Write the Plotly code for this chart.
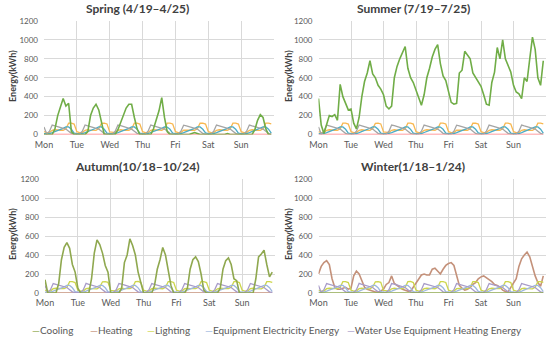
import plotly.graph_objects as go

days = ["Mon", "Tue", "Wed", "Thu", "Fri", "Sat", "Sun"]
day_ticks = [0, 24, 48, 72, 96, 120, 144]
hours = list(range(0, 168, 2))

cooling_spring = [0, 0, 0, 0, 60, 200, 290, 380, 300, 330, 30, 0,
                  0, 0, 0, 0, 30, 200, 280, 320, 260, 120, 0, 0,
                  0, 0, 0, 50, 130, 200, 280, 320, 320, 180, 60, 0,
                  0, 0, 0, 0, 60, 150, 250, 390, 180, 30, 0, 0,
                  0, 0, 0, 0, 0, 0, 10, 20, 10, 0, 0, 0,
                  0, 0, 0, 0, 0, 0, 0, 10, 0, 0, 0, 0,
                  0, 0, 0, 0, 0, 50, 150, 210, 180, 60, 0, 0]
cooling_summer = [380, 100, 10, 120, 200, 190, 210, 150, 530, 400, 330, 260,
                  270, 120, 60, 180, 400, 560, 650, 780, 640, 600, 520, 480,
                  420, 300, 270, 300, 600, 720, 800, 870, 930, 700, 600, 550,
                  470, 370, 310, 420, 600, 700, 820, 900, 950, 750, 620, 570,
                  450, 340, 320, 330, 650, 680, 880, 840, 800, 650, 600, 560,
                  510, 420, 320, 310, 550, 660, 920, 800, 1000, 800, 720, 660,
                  520, 450, 430, 380, 600, 560, 800, 1030, 900, 600, 520, 780]
cooling_autumn = [140, 0, 0, 0, 0, 100, 350, 480, 530, 470, 300, 220,
                  50, 0, 0, 0, 0, 150, 420, 560, 510, 420, 290, 220,
                  0, 0, 0, 0, 50, 320, 400, 570, 500, 400, 220, 110,
                  0, 0, 0, 0, 80, 250, 350, 480, 400, 250, 80, 0,
                  0, 0, 0, 0, 50, 250, 350, 380, 330, 200, 30, 0,
                  0, 0, 0, 0, 50, 250, 340, 370, 300, 150, 130, 0,
                  0, 0, 0, 0, 0, 150, 380, 410, 450, 300, 170, 220]
cooling_winter = [0, 0, 0, 0, 0, 0, 0, 0, 0, 0, 0, 0,
                  0, 0, 0, 0, 0, 0, 0, 0, 0, 0, 0, 0,
                  0, 0, 0, 0, 0, 0, 0, 0, 0, 0, 0, 0,
                  0, 0, 0, 0, 0, 0, 0, 0, 0, 0, 0, 0,
                  0, 0, 0, 0, 0, 0, 0, 0, 0, 0, 0, 0,
                  0, 0, 0, 0, 0, 0, 0, 0, 0, 0, 0, 0,
                  0, 0, 0, 0, 0, 0, 0, 0, 0, 0, 0, 0]
heating_warm = [0, 0, 0, 0, 0, 0, 0, 0, 0, 0, 0, 0,
                0, 0, 0, 0, 0, 0, 0, 0, 0, 0, 0, 0,
                0, 0, 0, 0, 0, 0, 0, 0, 0, 0, 0, 0,
                0, 0, 0, 0, 0, 0, 0, 0, 0, 0, 0, 0,
                0, 0, 0, 0, 0, 0, 0, 0, 0, 0, 0, 0,
                0, 0, 0, 0, 0, 0, 0, 0, 0, 0, 0, 0,
                0, 0, 0, 0, 0, 0, 0, 0, 0, 0, 0, 0]
heating_winter = [200, 280, 320, 340, 300, 150, 60, 40, 40, 50, 60, 40,
                  50, 180, 230, 200, 120, 60, 40, 30, 20, 10, 10, 20,
                  40, 90, 110, 180, 100, 80, 60, 40, 30, 20, 20, 60,
                  100, 140, 190, 200, 190, 190, 250, 260, 230, 200, 250, 290,
                  310, 320, 290, 180, 80, 50, 30, 40, 60, 90, 110, 150,
                  170, 180, 160, 140, 120, 90, 80, 60, 30, 15, 10, 60,
                  100, 150, 280, 360, 400, 430, 380, 270, 180, 110, 70, 180]
lighting = [30, 20, 20, 45, 50, 45, 45, 45, 60, 120, 120, 110,
            30, 20, 20, 45, 50, 46, 45, 44, 62, 118, 120, 112,
            28, 20, 20, 44, 50, 45, 45, 45, 60, 120, 121, 110,
            30, 20, 21, 45, 50, 45, 46, 45, 61, 120, 120, 111,
            30, 20, 20, 45, 49, 45, 45, 45, 60, 119, 120, 110,
            30, 20, 20, 44, 50, 45, 45, 45, 60, 120, 120, 110,
            30, 20, 20, 45, 50, 45, 45, 44, 60, 120, 120, 112]
equipment = [10, 10, 10, 20, 30, 40, 50, 65, 80, 80, 55, 15,
             10, 10, 10, 20, 30, 40, 52, 66, 80, 80, 55, 15,
             10, 10, 11, 20, 30, 40, 50, 65, 81, 80, 54, 15,
             10, 10, 10, 21, 30, 40, 50, 65, 80, 79, 55, 15,
             10, 10, 10, 20, 30, 41, 50, 64, 80, 80, 55, 16,
             10, 10, 10, 20, 30, 40, 50, 65, 80, 80, 55, 15,
             10, 10, 10, 20, 31, 40, 50, 65, 80, 80, 56, 15]
water = [80, 5, 35, 100, 92, 84, 76, 68, 58, 35, 12, 5,
         5, 5, 35, 101, 92, 85, 76, 67, 58, 35, 12, 5,
         5, 5, 34, 100, 93, 84, 76, 68, 57, 35, 12, 5,
         5, 5, 35, 100, 92, 84, 77, 68, 58, 36, 12, 5,
         5, 5, 35, 99, 92, 84, 76, 68, 58, 35, 11, 5,
         5, 5, 36, 100, 92, 85, 76, 68, 58, 35, 12, 5,
         5, 5, 35, 100, 91, 84, 76, 68, 58, 35, 12, 5]

series_names = ["Cooling", "Heating", "Lighting", "Equipment Electricity Energy",
                "Water Use Equipment Heating Energy"]
top_colors = ["#70AD47", "#FF7C80", "#F8B850", "#4BACC6", "#A5A5A5"]
bottom_colors = ["#8FA84F", "#C4917A", "#CDD64B", "#9EB8DE", "#A89CC8"]

panels = [
    ("Spring (4/19–4/25)", [cooling_spring, heating_warm, lighting, equipment, water], top_colors, "x", "y"),
    ("Summer (7/19–7/25)", [cooling_summer, heating_warm, lighting, equipment, water], top_colors, "x2", "y2"),
    ("Autumn(10/18–10/24)", [cooling_autumn, heating_warm, lighting, equipment, water], bottom_colors, "x3", "y3"),
    ("Winter(1/18–1/24)", [cooling_winter, heating_winter, lighting, equipment, water], bottom_colors, "x4", "y4"),
]

W, H = 550, 339
def px(v):
    return v / W
def py(v):
    return 1 - v / H

fig = go.Figure()
for title, data, colors, xa, ya in panels:
    order = [1, 2, 3, 4, 0]
    for i in order:
        fig.add_trace(go.Scatter(
            x=hours, y=data[i], mode="lines", name=series_names[i],
            line=dict(color=colors[i], width=1.6 if i in (0, 1) else 1.3),
            xaxis=xa, yaxis=ya, showlegend=False, hoverinfo="skip"))

font = "Lato, 'Open Sans', sans-serif"
xdoms = [[px(44), px(274)], [px(318.5), px(546)], [px(45), px(275)], [px(318.5), px(546)]]
ydoms = [[py(134.5), py(21)], [py(134.5), py(21)], [py(293), py(179)], [py(293), py(179)]]

layout = dict(width=W, height=H, margin=dict(l=0, r=0, t=0, b=0, autoexpand=False),
              paper_bgcolor="white", plot_bgcolor="white",
              font=dict(family=font, color="#595959"), showlegend=False)
for k in range(4):
    sx = "" if k == 0 else str(k + 1)
    layout["xaxis" + sx] = dict(domain=xdoms[k], range=[0, 168], tickvals=day_ticks, ticktext=days,
                                showgrid=True, gridcolor="#D9D9D9", gridwidth=1, zeroline=False,
                                showline=False, ticks="", tickfont=dict(size=9, color="#595959"),
                                anchor="y" + sx, ticklabelstandoff=3, fixedrange=True,
                                automargin=False)
    layout["yaxis" + sx] = dict(domain=ydoms[k], range=[0, 1200], dtick=200, tick0=0,
                                showgrid=True, gridcolor="#D9D9D9", gridwidth=1, zeroline=False,
                                showline=False, ticks="", tickfont=dict(size=8, color="#595959"),
                                anchor="x" + sx, ticklabelstandoff=5, fixedrange=True,
                                automargin=False)
fig.update_layout(**layout)

ann = []
title_pos = [(137, 8.5), (413, 8.5), (137, 167), (413, 167)]
for (title, *_), (tx, ty) in zip(panels, title_pos):
    ann.append(dict(text="<b>" + title + "</b>", x=px(tx), y=py(ty), xref="paper", yref="paper",
                    xanchor="center", yanchor="middle", showarrow=False,
                    font=dict(size=12, color="#404040", family=font)))
for (ax, ay) in [(12, 76), (288, 76), (12, 234), (288, 234)]:
    ann.append(dict(text="<b>Energy(kWh)</b>", x=px(ax), y=py(ay), xref="paper", yref="paper",
                    xanchor="center", yanchor="middle", showarrow=False, textangle=-90,
                    font=dict(size=9, color="#404040", family=font)))
legend_x = [30, 88, 145, 203, 345]
for name, color, lx in zip(series_names, bottom_colors, legend_x):
    ann.append(dict(text="<span style='color:" + color + "'>—</span>" + name,
                    x=px(lx), y=py(330), xref="paper", yref="paper",
                    xanchor="left", yanchor="middle", showarrow=False,
                    font=dict(size=10, color="#595959", family=font)))
fig.update_layout(annotations=ann)

fig.write_html("out.html", config={"displayModeBar": False},
               post_script="document.body.style.margin='0px';document.body.style.overflow='hidden';")
